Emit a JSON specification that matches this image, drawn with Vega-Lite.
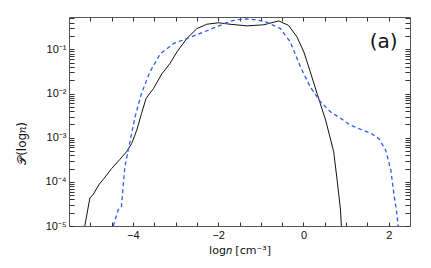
{
  "$schema": "https://vega.github.io/schema/vega-lite/v6.json",
  "width": 341,
  "height": 209,
  "autosize": {"type": "none"},
  "padding": {"left": 69, "top": 17, "right": 21, "bottom": 42},
  "background": "white",
  "config": {
    "view": {"stroke": null},
    "font": "Liberation Sans",
    "axis": {"grid": false, "domainColor": "#555", "tickColor": "#333", "labelColor": "#111", "titleColor": "#111", "labelFontSize": 11, "titleFontSize": 11, "titleFontWeight": "normal", "labelFont": "Liberation Sans", "titleFont": "DejaVu Sans"}
  },
  "datasets": {
    "black": [
      {"x": -5.13, "y": 1.0e-5}, {"x": -5.01, "y": 4.3e-5}, {"x": -4.93, "y": 5.2e-5}, {"x": -4.79, "y": 8.9e-5},
      {"x": -4.70, "y": 1.12e-4}, {"x": -4.50, "y": 2.0e-4}, {"x": -4.31, "y": 3.2e-4}, {"x": -4.15, "y": 4.8e-4},
      {"x": -4.03, "y": 7.4e-4}, {"x": -3.91, "y": 1.48e-3}, {"x": -3.80, "y": 3.5e-3}, {"x": -3.69, "y": 7.8e-3},
      {"x": -3.52, "y": 1.29e-2}, {"x": -3.32, "y": 2.8e-2}, {"x": -3.13, "y": 4.8e-2}, {"x": -2.97, "y": 8.7e-2},
      {"x": -2.74, "y": 0.174}, {"x": -2.50, "y": 0.295}, {"x": -2.27, "y": 0.37}, {"x": -1.99, "y": 0.40},
      {"x": -1.72, "y": 0.37}, {"x": -1.32, "y": 0.34}, {"x": -0.93, "y": 0.36}, {"x": -0.58, "y": 0.44},
      {"x": -0.35, "y": 0.35}, {"x": -0.15, "y": 0.19}, {"x": 0.01, "y": 0.087}, {"x": 0.16, "y": 0.031},
      {"x": 0.32, "y": 0.010}, {"x": 0.52, "y": 0.0025}, {"x": 0.71, "y": 4.8e-4}, {"x": 0.79, "y": 1.1e-4},
      {"x": 0.87, "y": 2.3e-5}, {"x": 0.89, "y": 1.0e-5}
    ],
    "blue": [
      {"x": -4.46, "y": 1.0e-5}, {"x": -4.35, "y": 2.3e-5}, {"x": -4.27, "y": 2.75e-5}, {"x": -4.23, "y": 7.8e-5},
      {"x": -4.19, "y": 2.2e-4}, {"x": -4.11, "y": 5.2e-4}, {"x": -4.03, "y": 1.26e-3}, {"x": -3.95, "y": 2.95e-3},
      {"x": -3.80, "y": 1.0e-2}, {"x": -3.60, "y": 3.1e-2}, {"x": -3.36, "y": 7.9e-2}, {"x": -3.05, "y": 0.135},
      {"x": -2.74, "y": 0.174}, {"x": -2.35, "y": 0.245}, {"x": -1.95, "y": 0.35}, {"x": -1.72, "y": 0.43},
      {"x": -1.56, "y": 0.47}, {"x": -1.32, "y": 0.49}, {"x": -0.93, "y": 0.44}, {"x": -0.54, "y": 0.295},
      {"x": -0.31, "y": 0.148}, {"x": -0.07, "y": 0.040}, {"x": 0.16, "y": 0.0141}, {"x": 0.40, "y": 0.0065},
      {"x": 0.64, "y": 0.0038}, {"x": 0.87, "y": 0.00275}, {"x": 1.11, "y": 0.0019}, {"x": 1.58, "y": 0.00126},
      {"x": 1.77, "y": 0.00095}, {"x": 1.93, "y": 5.2e-4}, {"x": 2.05, "y": 1.86e-4}, {"x": 2.12, "y": 5.5e-5},
      {"x": 2.19, "y": 1.95e-5}, {"x": 2.22, "y": 1.0e-5}
    ],
    "label": [{"text": "(a)", "x": 1.88, "y": 0.145}]
  },
  "resolve": {"axis": {"x": "independent", "y": "independent"}},
  "layer": [
    {
      "data": {"name": "black"},
      "mark": {"type": "line", "color": "#111", "strokeWidth": 1, "clip": true},
      "encoding": {
        "x": {"field": "x", "type": "quantitative", "scale": {"domain": [-5.5, 2.5], "nice": false, "zero": false},
          "axis": {"orient": "bottom", "values": [-5, -4.5, -4, -3.5, -3, -2.5, -2, -1.5, -1, -0.5, 0, 0.5, 1, 1.5, 2],
            "tickSize": -4,
            "encode": {"ticks": {"update": {"y2": {"signal": "datum.value % 2 == 0 ? -4 : -2.5"}}}},
            "labelExpr": "datum.value % 2 == 0 ? format(datum.value, 'd') : ''",
            "labelPadding": 7, "title": "log𝑛 [cm⁻³]", "titlePadding": 4}},
        "y": {"field": "y", "type": "quantitative", "scale": {"type": "log", "domain": [1e-5, 0.54], "nice": false},
          "axis": {"orient": "left",
            "values": [1e-5, 2e-5, 3e-5, 4e-5, 5e-5, 6e-5, 7e-5, 8e-5, 9e-5, 1e-4, 2e-4, 3e-4, 4e-4, 5e-4, 6e-4, 7e-4, 8e-4, 9e-4, 1e-3, 2e-3, 3e-3, 4e-3, 5e-3, 6e-3, 7e-3, 8e-3, 9e-3, 1e-2, 2e-2, 3e-2, 4e-2, 5e-2, 6e-2, 7e-2, 8e-2, 9e-2, 0.1, 0.2, 0.3, 0.4, 0.5],
            "tickSize": -5,
            "encode": {"ticks": {"update": {"x2": {"signal": "abs(log(datum.value)/LN10 - round(log(datum.value)/LN10)) < 0.01 ? 5 : 3"}}}},
            "labelPadding": 8,
            "labelExpr": "abs(log(datum.value)/LN10 - round(log(datum.value)/LN10)) > 0.01 ? '' : datum.value < 2e-5 ? '10⁻⁵' : datum.value < 2e-4 ? '10⁻⁴' : datum.value < 2e-3 ? '10⁻³' : datum.value < 2e-2 ? '10⁻²' : '10⁻¹'",
            "title": "𝒫(log𝑛)", "titleFontSize": 12, "titlePadding": 17, "titleY": 126}}
      }
    },
    {
      "data": {"name": "blue"},
      "mark": {"type": "line", "color": "#2a5cf0", "strokeWidth": 1.3, "strokeDash": [4, 3], "clip": true},
      "encoding": {
        "x": {"field": "x", "type": "quantitative", "scale": {"domain": [-5.5, 2.5], "nice": false, "zero": false},
          "axis": {"orient": "top", "values": [-5, -4.5, -4, -3.5, -3, -2.5, -2, -1.5, -1, -0.5, 0, 0.5, 1, 1.5, 2],
            "tickSize": -4,
            "encode": {"ticks": {"update": {"y2": {"signal": "datum.value % 2 == 0 ? 4 : 2.5"}}}},
            "labels": false, "title": null}},
        "y": {"field": "y", "type": "quantitative", "scale": {"type": "log", "domain": [1e-5, 0.54], "nice": false},
          "axis": {"orient": "right",
            "values": [1e-5, 2e-5, 3e-5, 4e-5, 5e-5, 6e-5, 7e-5, 8e-5, 9e-5, 1e-4, 2e-4, 3e-4, 4e-4, 5e-4, 6e-4, 7e-4, 8e-4, 9e-4, 1e-3, 2e-3, 3e-3, 4e-3, 5e-3, 6e-3, 7e-3, 8e-3, 9e-3, 1e-2, 2e-2, 3e-2, 4e-2, 5e-2, 6e-2, 7e-2, 8e-2, 9e-2, 0.1, 0.2, 0.3, 0.4, 0.5],
            "tickSize": -5,
            "encode": {"ticks": {"update": {"x2": {"signal": "abs(log(datum.value)/LN10 - round(log(datum.value)/LN10)) < 0.01 ? -5 : -3"}}}},
            "labels": false, "title": null}}
      }
    },
    {
      "data": {"name": "label"},
      "mark": {"type": "text", "fontSize": 20, "font": "DejaVu Sans", "color": "#111", "align": "center", "baseline": "middle"},
      "encoding": {
        "text": {"field": "text"},
        "x": {"field": "x", "type": "quantitative", "axis": null},
        "y": {"field": "y", "type": "quantitative", "axis": null}
      }
    }
  ]
}
